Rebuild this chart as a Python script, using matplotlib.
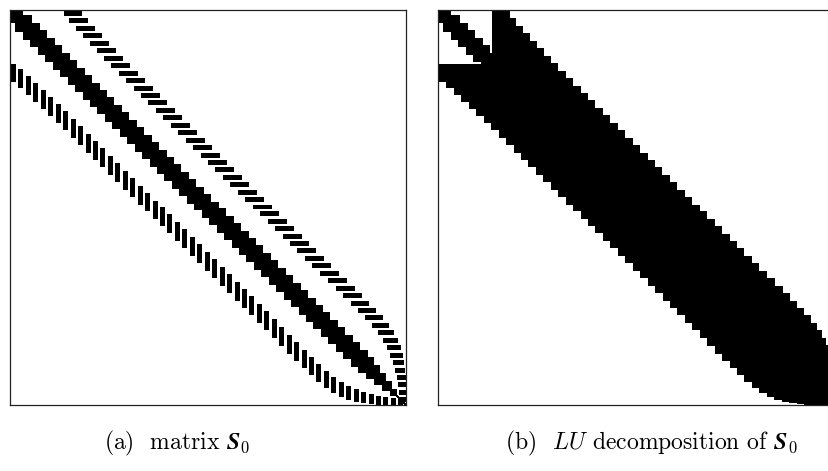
import numpy as np
import matplotlib
matplotlib.use("Agg")
import matplotlib.pyplot as plt

plt.rcParams["mathtext.fontset"] = "cm"

# Order of the system matrix S0
N = 396

# Diagonal coupling blocks (first index, size)
diag_start = [0, 5, 13, 20, 28, 35, 43, 50, 58, 65, 73, 80, 87, 95, 102, 110, 117,
              125, 132, 140, 147, 154, 162, 169, 177, 184, 192, 199, 207, 214, 222,
              229, 236, 244, 251, 259, 266, 274, 281, 289, 296, 303, 311, 318, 326,
              333, 341, 348, 356, 364, 372, 380]
diag_size = [13, 17, 17, 17, 17, 17, 17, 17, 17, 17, 17, 17, 17, 17, 17, 17, 17,
             17, 17, 17, 17, 17, 17, 17, 17, 17, 17, 17, 17, 17, 17,
             17, 17, 17, 17, 17, 17, 17, 17, 17, 17, 17, 17, 17, 17,
             17, 17, 16, 14, 12, 10, 7]

# Off-diagonal coupling band (upper part; the lower part is its transpose)
band_row = [1, 8, 16, 23, 31, 38, 46, 53, 61, 68, 76, 83, 90, 98, 105, 113, 120,
            128, 135, 143, 150, 157, 165, 172, 180, 187, 195, 202, 210, 217, 225,
            232, 239, 247, 254, 262, 269, 277, 284, 292, 299, 306, 314, 321, 329,
            336, 344, 351, 359, 366, 373, 381, 388]
band_col_lo = [54, 59, 66, 73, 80, 87, 94, 101, 109, 116, 124, 131, 138, 146, 153,
               161, 168, 176, 183, 191, 198, 205, 213, 220, 228, 235, 243, 250, 258,
               265, 273, 280, 287, 295, 302, 310, 318, 326, 333, 341, 348, 355, 362,
               368, 373, 377, 380, 383, 385, 387, 388, 389, 390]
band_col_hi = [72, 78, 85, 92, 99, 106, 113, 120, 128, 135, 143, 150, 157, 165, 172,
               180, 187, 195, 202, 210, 217, 224, 232, 239, 247, 254, 262, 269, 277,
               284, 292, 299, 306, 314, 321, 329, 337, 345, 352, 359, 366, 373, 379,
               384, 388, 391, 393, 394, 395, 396, 396, 396, 396]
band_height = 5

# Assemble the sparsity pattern of S0
S = np.zeros((N, N), dtype=bool)
idx = np.arange(N)
for d in (-1, 0, 1):
    ok = (idx + d >= 0) & (idx + d < N)
    S[idx[ok], idx[ok] + d] = True
for s, m in zip(diag_start, diag_size):
    S[s:s + m, s:s + m] = True
for r, lo, hi in zip(band_row, band_col_lo, band_col_hi):
    S[r:r + band_height, lo:hi] = True
S = S | S.T

# Fill-in of the LU factors: envelope (profile) of S0
first = np.argmax(S, axis=1)
I, J = np.meshgrid(idx, idx, indexing="ij")
LU = ((J <= I) & (J >= first[I])) | ((I <= J) & (I >= first[J]))

W, H = 829, 471
fig = plt.figure(figsize=(W / 100, H / 100), dpi=100)
box = [(10, 10, 396, 395), (438, 10, 396, 395)]
mats = [S, LU]
for (x, y, w, h), M in zip(box, mats):
    ax = fig.add_axes([x / W, 1 - (y + h) / H, w / W, h / H])
    ax.imshow(M, cmap="gray_r", vmin=0, vmax=1, interpolation="nearest",
              aspect="auto", extent=(0, N, N, 0))
    ax.set_xticks([])
    ax.set_yticks([])
    for sp in ax.spines.values():
        sp.set_linewidth(0.9)
        sp.set_color("#222222")

fig.text(177 / W, 1 - 443 / H, r"(a)  matrix $\mathbfit{S}_0$", ha="center",
         va="center", fontsize=17, family="cmr10")
fig.text(651 / W, 1 - 443 / H, r"(b)  $LU$ decomposition of $\mathbfit{S}_0$",
         ha="center", va="center", fontsize=17, family="cmr10")

fig.savefig("out.png", dpi=100)
